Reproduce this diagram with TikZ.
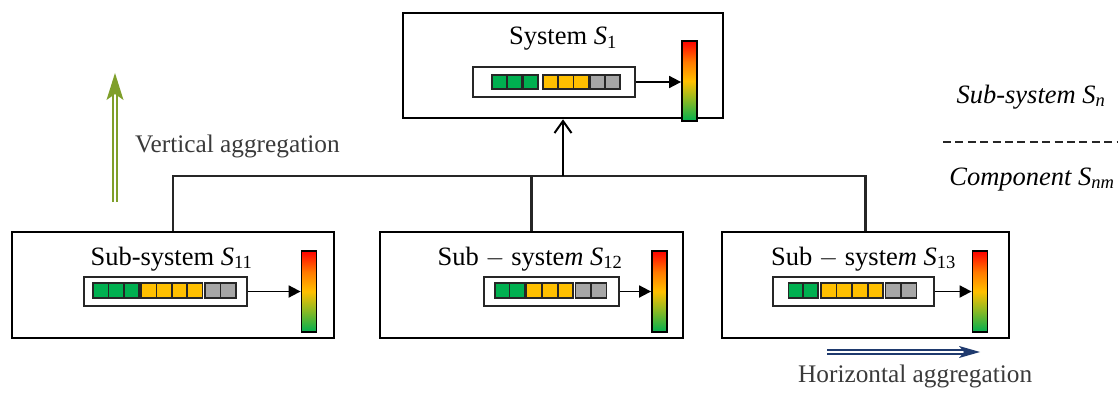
\documentclass[tikz,border=0pt]{standalone}
\usepackage{fontspec}
\setmainfont{Liberation Serif}
\usetikzlibrary{arrows.meta,calc}
\definecolor{cgreen}{HTML}{00B050}
\definecolor{cyellow}{HTML}{FFC000}
\definecolor{cgray}{HTML}{A6A6A6}
\definecolor{cred}{HTML}{FF0000}
\definecolor{corange}{HTML}{FF7A00}
\definecolor{colive}{HTML}{9DBB1E}
\definecolor{olivegreen}{HTML}{7F9F2A}
\definecolor{navy}{HTML}{1F3A6E}
\definecolor{txtgray}{HTML}{3A3A3A}
\definecolor{linegray}{HTML}{262626}
\pgfdeclareverticalshading{traffic}{100bp}{color(0bp)=(cgreen); color(25bp)=(cgreen); color(40bp)=(colive); color(50bp)=(cyellow); color(62bp)=(corange); color(75bp)=(cred); color(100bp)=(cred)}
\newcommand\bigfont{\fontsize{26.5}{30}\selectfont}
\newcommand\labfont{\fontsize{25.3}{30}\selectfont}
\begin{document}
\begin{tikzpicture}[x=1pt,y=-1pt,
  box/.style={draw=black,line width=2.6pt,fill=white,inner sep=0pt},
  inbox/.style={draw=linegray,line width=1.3pt,fill=white,inner sep=0pt,minimum height=30pt},
  bar/.style={draw=black,line width=1.8pt,inner sep=0pt,minimum width=15pt,minimum height=81pt,
    shading=traffic},
  cell/.style={draw=linegray,line width=1.4pt},
  title/.style={anchor=base,inner sep=0pt,text=black,font=\bigfont},
  label/.style={anchor=base west,inner sep=0pt,text=txtgray,font=\labfont},
  tree/.style={draw=linegray,line width=2.4pt},
  feed/.style={draw=black,line width=1.8pt,-{Triangle[length=12pt,width=12pt]}},
]
\useasboundingbox (0,0) rectangle (1119,396);

% ---- boxes
\node[box,minimum width=320pt,minimum height=105pt] (s) at (563,65.5) {};
\node[box,minimum width=322pt,minimum height=106pt] (l) at (173,285) {};
\node[box,minimum width=303pt,minimum height=106pt] (m) at (531.5,285) {};
\node[box,minimum width=287pt,minimum height=106pt] (r) at (865.5,285) {};

% ---- titles
\node[title] (st) at (563,45) {System \textit{S}\textsubscript{1}};
\node[title] (lt) at (171.5,265) {Sub-system \textit{S}\textsubscript{11}};
\node[title] (mt) at (530,265) {Sub $-$ syste\textit{m} \textit{S}\textsubscript{12}};
\node[title] (rt) at (863.5,265) {Sub $-$ syste\textit{m} \textit{S}\textsubscript{13}};

% ---- inner boxes
\node[inbox,minimum width=162pt] (si) at (554,82) {};
\node[inbox,minimum width=163pt,minimum height=29pt] (li) at (165.5,291.5) {};
\node[inbox,minimum width=135pt,minimum height=29pt] (mi) at (551.5,291.5) {};
\node[inbox,minimum width=161pt,minimum height=29pt] (ri) at (853.5,291.5) {};

% ---- cells
\foreach \x/\c in {492/cgreen,507/cgreen,523/cgreen,543/cyellow,558.2/cyellow,573.4/cyellow,590/cgray,605/cgray}
  \draw[cell,fill=\c] (\x,75) rectangle ++(15,14);
\foreach \x/\c in {93/cgreen,108.4/cgreen,123.8/cgreen,141/cyellow,156.4/cyellow,171.8/cyellow,187.2/cyellow,205/cgray,220.5/cgray}
  \draw[cell,fill=\c] (\x,283) rectangle ++(15.3,15);
\foreach \x/\c in {495/cgreen,509.7/cgreen,526.7/cyellow,542.2/cyellow,557.8/cyellow,575.7/cgray,591.2/cgray}
  \draw[cell,fill=\c] (\x,283) rectangle ++(15.3,15);
\foreach \x/\c in {788.3/cgreen,802.8/cgreen,821/cyellow,836.6/cyellow,852.2/cyellow,867.8/cyellow,885.7/cgray,901.2/cgray}
  \draw[cell,fill=\c] (\x,283) rectangle ++(15.3,15);

% ---- gradient bars
\node[bar,minimum height=80pt] (sb) at (689.5,81) {};
\node[bar] (lb) at (309,291.5) {};
\node[bar] (mb) at (659.5,291.5) {};
\node[bar] (rb) at (980,291.5) {};

\draw[feed] (si.east) -- (si.east -| sb.west);
\draw[feed] (li.east) -- (li.east -| lb.west);
\draw[feed] (mi.east) -- (mi.east -| mb.west);
\draw[feed] (ri.east) -- (ri.east -| rb.west);

% ---- tree
\coordinate (j) at (563,176);
\draw[tree] (l.north) |- (j -| r.north) -- (r.north);
\draw[tree] (m.north) -- (m.north |- j);
\draw[draw=black,line width=2.8pt,-{Straight Barb[length=12pt,width=17pt,line width=2pt]}] (j) -- (s.south);

% ---- vertical aggregation
\coordinate (va) at (115,202);
\coordinate (vb) at (115,92);
\coordinate (vt) at (115,73);
\draw[draw=olivegreen,line width=2.3pt,double=white,double distance=1.8pt] (va) -- (vb);
\fill[olivegreen] (vt) -- ++(8.5,27) -- ++(-8.5,-6) -- ++(-8.5,6) -- cycle;
\node[label] (vl) at (135,152) {Vertical aggregation};

% ---- horizontal aggregation
\coordinate (ha) at (827,352);
\coordinate (hb) at (966,352);
\coordinate (ht) at (980,352);
\draw[draw=navy,line width=2pt,double=white,double distance=1.5pt] (ha) -- (hb);
\fill[navy] (ht) -- ++(-21,-6) -- ++(5,6) -- ++(-5,6) -- cycle;
\node[label] (hl) at (798,382) {Horizontal aggregation};

% ---- legend
\node[anchor=base,inner sep=0pt,text=black,font=\bigfont] (ln) at (1031,103) {\textit{Sub-system S}\textsubscript{\textit{n}}};
\coordinate (d1) at (943,142);
\coordinate (d2) at (1117,142);
\draw[draw=linegray,line width=1.1pt,dash pattern=on 8pt off 4.4pt] (d1) -- (d2);
\node[anchor=base,inner sep=0pt,text=black,font=\bigfont] (lc) at (1032,185) {\textit{Component S}\textsubscript{\textit{nm}}};
\end{tikzpicture}
\end{document}
